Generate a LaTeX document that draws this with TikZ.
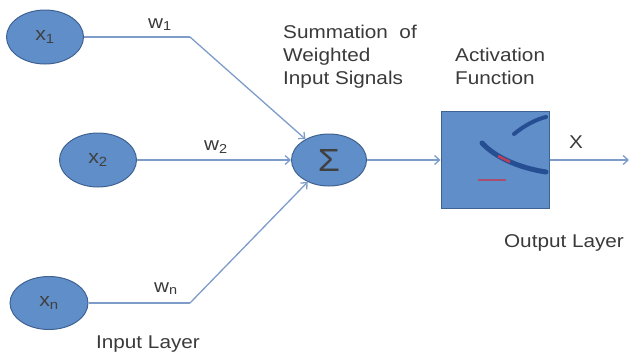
\documentclass[tikz,border=0pt]{standalone}
\usepackage{fontspec}
\setmainfont{Liberation Sans}[FakeStretch=1.12]
\usetikzlibrary{shapes, arrows.meta, positioning, calc}
\definecolor{nodeblue}{RGB}{96,142,201}
\definecolor{edgeblue}{RGB}{64,98,146}
\definecolor{wireblue}{RGB}{126,156,202}
\definecolor{curveblue}{RGB}{38,78,146}
\definecolor{labelgray}{RGB}{58,58,58}

\begin{document}
\begin{tikzpicture}[x=1pt, y=-1pt,
  neuron/.style={ellipse, draw=edgeblue, fill=nodeblue, line width=1pt,
    minimum width=77pt, minimum height=54pt, inner sep=0pt,
    text=black!75, font=\fontsize{19}{20}\selectfont},
  wire/.style={draw=wireblue, line width=1.3pt, -{Straight Barb[length=5pt, width=9pt]}},
  plain/.style={draw=wireblue, line width=1.3pt},
  tag/.style={text=labelgray, inner sep=0pt, font=\fontsize{18.5}{23}\selectfont}]
  \useasboundingbox (0,0) rectangle (629,354);

  % inputs and summation
  \node[neuron] (x1) at (45,37) {x\textsubscript{1}};
  \node[neuron] (x2) at (98,160) {x\textsubscript{2}};
  \node[neuron, minimum width=78pt, minimum height=53pt] (xn) at (49,303) {x\textsubscript{n}};
  \node[neuron, minimum width=75pt, minimum height=52pt,
    font=\fontsize{32}{32}\selectfont] (sum) at (329,160) {Σ};

  % activation box
  \node[draw=edgeblue, fill=nodeblue, line width=1pt, minimum width=108pt,
    minimum height=97pt, inner sep=0pt] (act) at (495,160) {};
  \draw[curveblue, line width=4pt, line cap=round]
    (514,134) .. controls (525,125) and (537,119) .. (546,117);
  \draw[curveblue, line width=5pt, line cap=round]
    (482,143) .. controls (496,158) and (520,168) .. (546,172);
  \draw[red!55!nodeblue, line width=2.5pt] (498,156) -- (510,162);
  \draw[red!45!nodeblue, line width=2pt] (478,180) -- (506,180);

  \coordinate (b1) at (190,37);
  \coordinate (bn) at (190,303);
  \coordinate (out) at (629,160);

  % connectors
  \draw[plain] (x1) -- (b1);
  \draw[wire] (b1) -- (sum);
  \draw[wire] (x2) -- (sum);
  \draw[plain] (xn) -- (bn);
  \draw[wire] (bn) -- (sum);
  \draw[wire] (sum) -- (act);
  \draw[wire] (act.east) -- (out);

  % labels
  \node[tag, anchor=base] (w1) at (160,28) {w\textsubscript{1}};
  \node[tag, anchor=base] (w2) at (216,150) {w\textsubscript{2}};
  \node[tag, anchor=base] (wn) at (166,292) {w\textsubscript{n}};
  \node[tag, anchor=base] (xout) at (576,148) {X};
  \node[tag, anchor=north west, align=left] (sumtext) at (283,24.5)
    {Summation\ \ of\\Weighted\\Input Signals};
  \node[tag, anchor=north west, align=left] (acttext) at (455,47.5)
    {Activation\\Function};
  \node[tag, anchor=base] (inlayer) at (148,348) {Input Layer};
  \node[tag, anchor=base] (outlayer) at (564,247) {Output Layer};
\end{tikzpicture}
\end{document}
